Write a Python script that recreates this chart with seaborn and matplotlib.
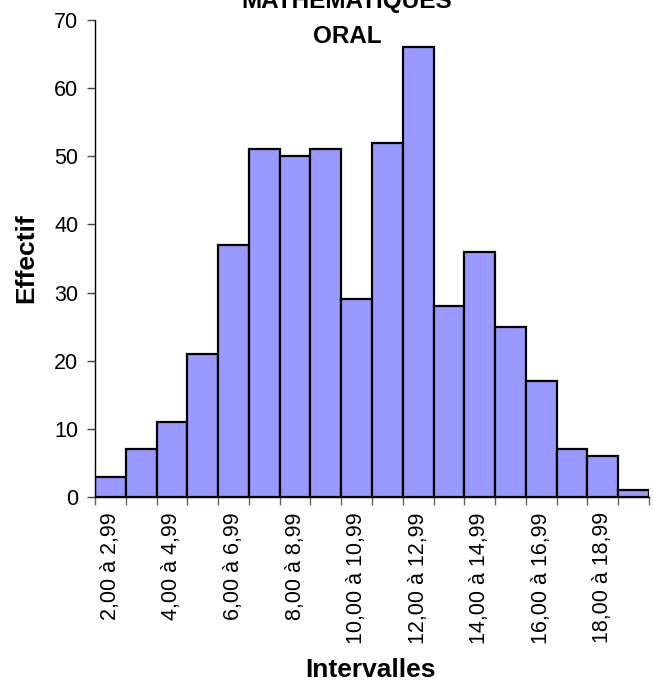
import matplotlib
matplotlib.use("Agg")
import matplotlib.pyplot as plt
import seaborn as sns
import pandas as pd
import numpy as np

# Score intervals (lower bounds 2..19) and number of students in each
lower_bounds = [2, 3, 4, 5, 6, 7, 8, 9, 10, 11, 12, 13, 14, 15, 16, 17, 18, 19]
effectifs = [3, 7, 11, 21, 37, 51, 50, 51, 29, 52, 66, 28, 36, 25, 17, 7, 6, 1]
intervalles = [f"{b},00 à {b},99" for b in lower_bounds]

title_lines = ["MATHEMATIQUES", "ORAL"]
x_title = "Intervalles"
y_title = "Effectif"
y_ticks = [0, 10, 20, 30, 40, 50, 60, 70]

sns.set_style("white")
plt.rcParams["font.family"] = ["Liberation Sans", "DejaVu Sans"]
plt.rcParams["text.color"] = "black"
plt.rcParams["xtick.labelcolor"] = "black"
plt.rcParams["ytick.labelcolor"] = "black"

df = pd.DataFrame({"Intervalle": intervalles, "Effectif": effectifs})

W, H = 653, 681
fig = plt.figure(figsize=(W / 100, H / 100), dpi=100)
ax = fig.add_axes([95 / W, 1 - 497 / H, (649 - 95) / W, (497 - 20) / H])

sns.barplot(data=df, x="Intervalle", y="Effectif", order=intervalles,
            color="#9999FF", saturation=1, width=1.0,
            edgecolor="black", linewidth=1.6, ax=ax)

n = len(intervalles)
ax.set_xlim(-0.5, n - 0.5)
ax.set_ylim(0, 70)
ax.set_yticks(y_ticks)
ax.set_yticklabels([str(v) for v in y_ticks], fontsize=15.5)

# Labels on every other interval, tick marks at every bar boundary
ax.set_xticks(range(n))
ax.set_xticklabels([lab if i % 2 == 0 else "" for i, lab in enumerate(intervalles)],
                   rotation=90, fontsize=15.5)
ax.tick_params(axis="x", which="major", length=0, pad=11, labelcolor="black")
ax.set_xticks(np.arange(-0.5, n, 1.0), minor=True)
ax.tick_params(axis="x", which="minor", length=6, width=1, color="#666666",
               direction="out", bottom=True)
ax.tick_params(axis="y", length=6, width=1, color="#444444", direction="out",
               left=True, pad=6, labelcolor="black")

ax.set_xlabel("")
ax.set_ylabel("")
for side in ("top", "right"):
    ax.spines[side].set_visible(False)
for side in ("left", "bottom"):
    ax.spines[side].set_color("black")
    ax.spines[side].set_linewidth(1.0)

fig.text(347 / W, 1 - 8 / H, title_lines[0], ha="center", va="baseline",
         fontsize=17.5, fontweight="bold", color="black")
fig.text(347 / W, 1 - 43 / H, title_lines[1], ha="center", va="baseline",
         fontsize=17.5, fontweight="bold", color="black")
fig.text(371 / W, 1 - 677 / H, x_title, ha="center", va="baseline",
         fontsize=19, fontweight="bold", color="black")
fig.text(26 / W, 1 - 258 / H, y_title, ha="center", va="center", rotation=90,
         fontsize=19, fontweight="bold", color="black")

fig.savefig("out.png", dpi=100, facecolor="white")
